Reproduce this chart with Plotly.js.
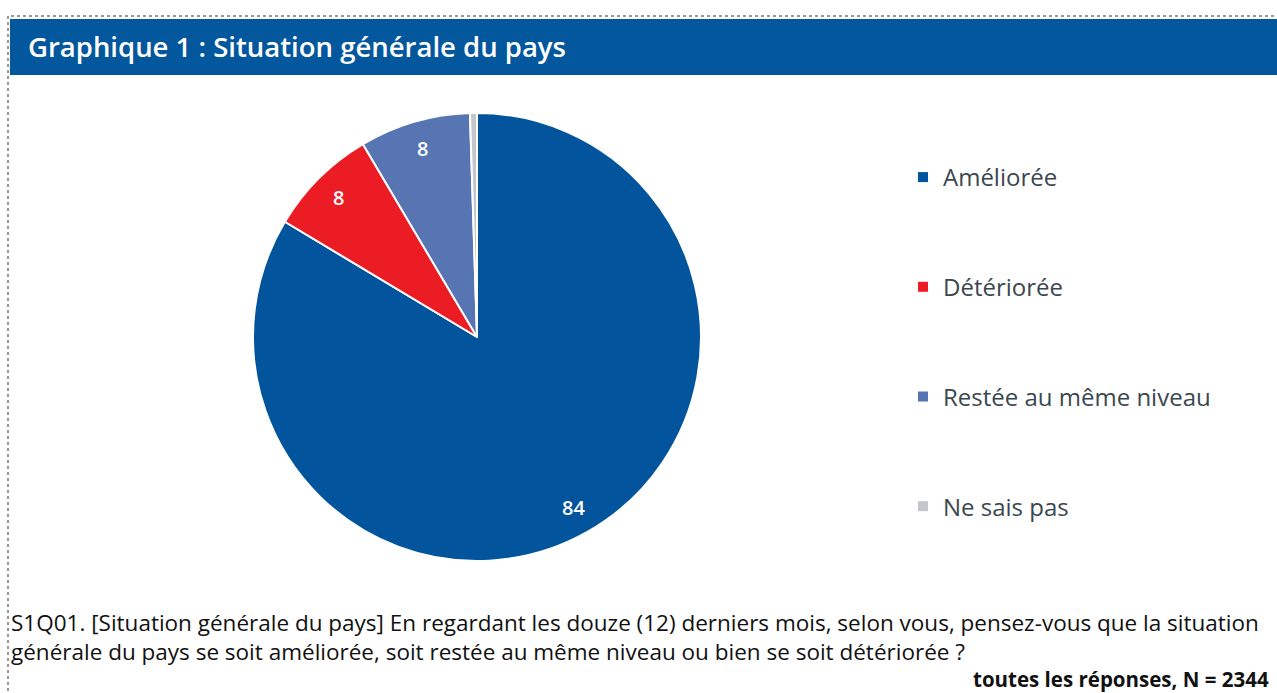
<!DOCTYPE html>
<html><head><meta charset="utf-8">
<script src="https://cdn.plot.ly/plotly-3.0.1.min.js"></script>
<style>html,body{margin:0;padding:0;background:#fff;overflow:hidden}</style>
</head><body><div id="chart" style="width:1277px;height:693px"></div>
<script>
const categories = ['Améliorée', 'Détériorée', 'Restée au même niveau', 'Ne sais pas'];
const values = [83.6, 7.9, 8.0, 0.5];
const colors = ['#02559C', '#EC1C24', '#5675B2', '#C3C7CB'];
const titleText = 'Graphique 1 : Situation générale du pays';
const questionLine1 = 'S1Q01. [Situation générale du pays] En regardant les douze (12) derniers mois, selon vous, pensez-vous que la situation';
const questionLine2 = 'générale du pays se soit améliorée, soit restée au même niveau ou bien se soit détériorée ?';
const baseText = 'toutes les réponses, N = 2344';

const W = 1277, H = 693;
const px = v => v / W;
const py = v => 1 - v / H;

// pie geometry (pixels)
const CX = 477, CY = 337, R = 224;

const pie = {
  type: 'pie',
  labels: categories,
  values: values,
  sort: false,
  direction: 'clockwise',
  rotation: 0,
  marker: {colors: colors, line: {color: '#ffffff', width: 2}},
  textinfo: 'none',
  hoverinfo: 'label+value',
  showlegend: false,
  domain: {x: [px(CX - R), px(CX + R)], y: [py(CY + R), py(CY - R)]}
};

// value labels placed along each slice's bisector, derived from the values
const total = values.reduce((a, b) => a + b, 0);
let cum = 0;
const labelAnnotations = [];
values.forEach((v, i) => {
  const mid = (cum + v / 2) / total * 2 * Math.PI;
  cum += v;
  if (v < 1) return;
  const rr = 0.875 * R;
  labelAnnotations.push({
    text: String(Math.round(v)), xref: 'paper', yref: 'paper',
    x: px(CX + rr * Math.sin(mid)), y: py(CY - rr * Math.cos(mid)),
    xanchor: 'center', yanchor: 'middle', showarrow: false,
    font: {family: 'Open Sans, sans-serif', size: 20, color: '#ffffff', weight: 600}
  });
});

const legendTraces = categories.map((c, i) => ({
  type: 'scatter', mode: 'markers', x: [null], y: [null],
  name: c, legendgroup: 'g' + i,
  marker: {symbol: 'square', size: 10, color: colors[i]},
  hoverinfo: 'skip'
}));

const layout = {
  width: W, height: H,
  margin: {l: 0, r: 0, t: 0, b: 0},
  paper_bgcolor: '#ffffff', plot_bgcolor: '#ffffff',
  xaxis: {visible: false, domain: [0.9, 0.91]},
  yaxis: {visible: false, domain: [0.5, 0.51]},
  showlegend: true,
  legend: {
    x: px(903), y: py(155), xanchor: 'left', yanchor: 'top',
    traceorder: 'grouped', tracegroupgap: 75.5,
    font: {family: 'Open Sans, sans-serif', size: 24, color: '#3a4750'},
    bgcolor: 'rgba(0,0,0,0)'
  },
  shapes: [
    {type: 'rect', xref: 'paper', yref: 'paper', x0: px(8), x1: px(1300), y0: py(720), y1: py(16),
     line: {color: '#333333', width: 1, dash: 'dot'}, fillcolor: 'rgba(0,0,0,0)', layer: 'below'},
    {type: 'rect', xref: 'paper', yref: 'paper', x0: px(10), x1: px(1300), y0: py(75), y1: py(19),
     line: {width: 0}, fillcolor: '#03579C', layer: 'below'}
  ],
  annotations: [
    {text: titleText, xref: 'paper', yref: 'paper', x: px(26), y: py(46), xanchor: 'left', yanchor: 'middle',
     showarrow: false, font: {family: 'Open Sans, sans-serif', size: 27.5, color: '#ffffff', weight: 600}},
    {text: questionLine1, xref: 'paper', yref: 'paper', x: px(9), y: py(622), xanchor: 'left', yanchor: 'middle',
     showarrow: false, font: {family: 'Open Sans, sans-serif', size: 22.5, color: '#111111'}},
    {text: questionLine2, xref: 'paper', yref: 'paper', x: px(9), y: py(651), xanchor: 'left', yanchor: 'middle',
     showarrow: false, font: {family: 'Open Sans, sans-serif', size: 22.5, color: '#111111'}},
    {text: baseText, xref: 'paper', yref: 'paper', x: px(1271), y: py(679), xanchor: 'right', yanchor: 'middle',
     showarrow: false, font: {family: 'Open Sans, sans-serif', size: 20.5, color: '#111111', weight: 700}}
  ].concat(labelAnnotations)
};

Plotly.newPlot('chart', [pie].concat(legendTraces), layout, {displayModeBar: false, staticPlot: true});
</script></body></html>
